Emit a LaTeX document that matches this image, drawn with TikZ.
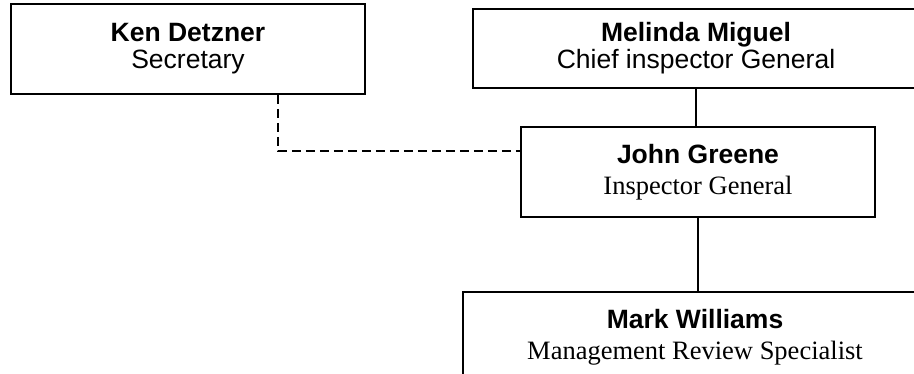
\documentclass[tikz,border=0pt]{standalone}
\usepackage{fontspec}
\setmainfont{Liberation Serif}
\newfontfamily\arialf{Liberation Sans}
\newfontfamily\timesf{Liberation Serif}
\begin{document}
\begin{tikzpicture}[x=1pt,y=-1pt,
  box/.style={draw=black, line width=1.6pt, rectangle, align=center, inner sep=0pt,
    font=\fontsize{26.5}{31}\selectfont},
  tightbox/.style={box, font=\fontsize{26.5}{27}\selectfont},
  conn/.style={line width=1.4pt},
  dashconn/.style={line width=1.4pt, dash pattern=on 9pt off 5pt}]
\clip (0,0) rectangle (914,373);
\fill[white] (0,0) rectangle (914,373);
\node[tightbox, minimum width=354pt, minimum height=90pt] (ken) at (188,49)
  {{\arialf\bfseries Ken Detzner}\\{\arialf Secretary}};
\node[tightbox, minimum width=446pt, minimum height=79pt] (melinda) at (696,48.5)
  {{\arialf\bfseries Melinda Miguel}\\{\arialf Chief inspector General}};
\node[box, minimum width=354pt, minimum height=90pt] (john) at (698,172)
  {{\arialf\bfseries John Greene}\\{\timesf Inspector General}};
\node[box, minimum width=464pt, minimum height=90pt] (mark) at (695,337)
  {{\arialf\bfseries Mark Williams}\\{\timesf Management Review Specialist}};
\coordinate (d) at (278,151);
\draw[dashconn] (ken.south -| d) -- (d) -- (d -| john.west);
\draw[conn] (melinda.south) -- (melinda.south |- john.north);
\draw[conn] (john.south) -- (john.south |- mark.north);
\end{tikzpicture}
\end{document}
